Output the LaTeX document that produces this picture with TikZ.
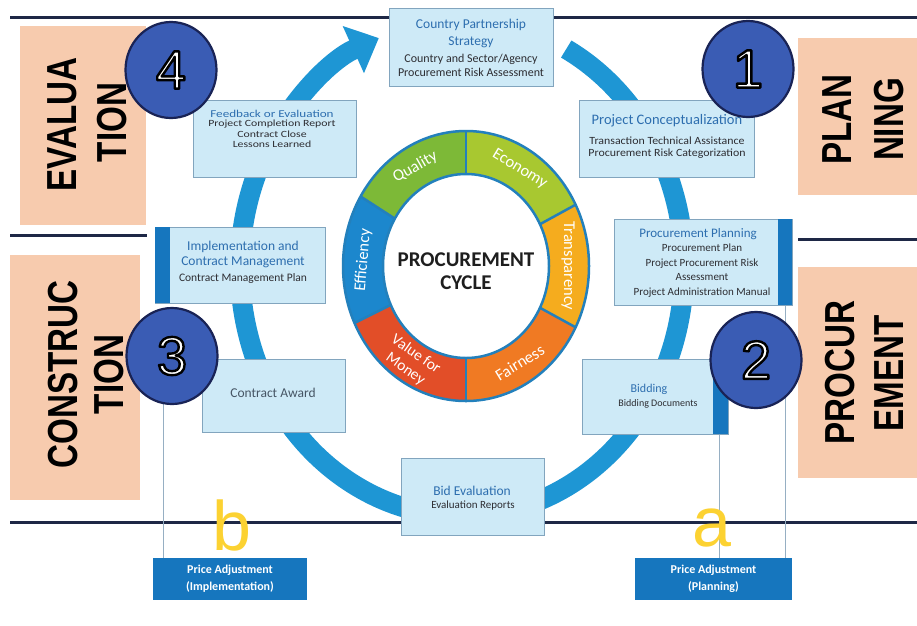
\documentclass[tikz,border=0pt]{standalone}
\usepackage{fontspec}
\setmainfont{Carlito}
\newfontfamily\headfont{Liberation Sans}
\usetikzlibrary{arrows.meta,shapes.geometric}
\definecolor{boxfill}{RGB}{206,234,247}
\definecolor{boxline}{RGB}{130,165,190}
\definecolor{barblue}{RGB}{22,118,190}
\definecolor{ringblue}{RGB}{30,150,212}
\definecolor{peach}{RGB}{247,203,174}
\definecolor{navy}{RGB}{30,40,70}
\definecolor{numblue}{RGB}{58,92,180}
\definecolor{numedge}{RGB}{25,35,85}
\definecolor{titleblue}{RGB}{45,110,175}
\definecolor{bodytext}{RGB}{45,45,50}
\definecolor{slate}{RGB}{70,85,100}
\definecolor{vline}{RGB}{150,175,195}
\definecolor{cquality}{RGB}{125,185,55}
\definecolor{ceconomy}{RGB}{168,200,48}
\definecolor{ctransp}{RGB}{245,172,30}
\definecolor{cfair}{RGB}{240,122,35}
\definecolor{cvalue}{RGB}{226,78,40}
\definecolor{cefficiency}{RGB}{28,135,205}
\definecolor{ringedge}{RGB}{35,128,188}
\definecolor{letteryellow}{RGB}{252,210,50}
\definecolor{centertext}{RGB}{30,30,30}
\newcommand\fsz[2]{\fontsize{#1}{#2}\selectfont}
\newcommand\outlined[1]{\special{pdf:literal direct q 2 Tr 2.4 w 0 0 0 RG 1 j}#1\special{pdf:literal direct Q}}
\newcommand\ringseg[3]{\fill[#1] (#2:123pt and 135pt) arc[start angle=#2,end angle=#3,x radius=123pt,y radius=135pt] -- (#3:83pt and 92pt) arc[start angle=#3,end angle=#2,x radius=83pt,y radius=92pt] -- cycle;}
\begin{document}
\begin{tikzpicture}[x=1pt,y=1pt,
  lbox/.style={draw=boxline,line width=0.8pt,fill=boxfill,inner sep=0pt,outer sep=0pt},
  sidebar/.style={fill=barblue,inner sep=0pt,outer sep=0pt},
  peachbox/.style={fill=peach,inner sep=0pt,outer sep=0pt},
  stagetxt/.style={font=\headfont\bfseries\fsz{42}{42},rotate=90,anchor=base,inner sep=0pt,text=black},
  numc/.style={ellipse,fill=numblue,draw=numedge,line width=2.2pt,minimum width=91pt,minimum height=96pt,inner sep=0pt},
  numtxt/.style={font=\headfont\fsz{54}{54},inner sep=0pt,text=white},
  navyline/.style={navy,line width=3pt},
  thinline/.style={vline,line width=0.9pt},
  ttl/.style={text=titleblue,align=center,inner sep=0pt},
  bdy/.style={text=bodytext,align=center,inner sep=0pt},
  pabox/.style={fill=barblue,text=white,font=\bfseries\fsz{12}{17},align=center,inner sep=0pt,outer sep=0pt},
  seglbl/.style={text=white,font=\fsz{16.5}{18},align=center,inner sep=0pt},
  yellowletter/.style={text=letteryellow,font=\headfont\fsz{70}{70},anchor=base,inner sep=0pt}
]
\fill[white] (0,0) rectangle (917,-625);
\useasboundingbox (0,0) rectangle (917,-625);

% horizontal separator lines
\coordinate (tlA) at (10,-17);
\coordinate (tlB) at (917,-17);
\coordinate (mlA) at (10,-235);
\coordinate (mlB) at (147,-235);
\coordinate (mrA) at (798,-239);
\coordinate (mrB) at (917,-239);
\coordinate (blA) at (10,-522);
\coordinate (blB) at (917,-522);
\draw[navyline] (tlA) -- (tlB);
\draw[navyline] (mlA) -- (mlB);
\draw[navyline] (mrA) -- (mrB);
\draw[navyline] (blA) -- (blB);

% thin vertical lines
\coordinate (vlA1) at (163,-402);
\coordinate (vlA2) at (163,-558);
\coordinate (vlB1) at (785,-305);
\coordinate (vlB2) at (785,-558);
\coordinate (vlC1) at (719,-434);
\coordinate (vlC2) at (719,-558);
\draw[thinline] (vlA1) -- (vlA2);
\draw[thinline] (vlB1) -- (vlB2);
\draw[thinline] (vlC1) -- (vlC2);

% stage boxes
\node[peachbox,minimum width=126pt,minimum height=199pt] (evalbox) at (83,-125.5) {};
\node[peachbox,minimum width=130pt,minimum height=245pt] (consbox) at (75,-377.5) {};
\node[peachbox,minimum width=119pt,minimum height=157pt] (planbox) at (857.5,-116.5) {};
\node[peachbox,minimum width=119pt,minimum height=211pt] (procbox) at (857.5,-372.5) {};
\node[stagetxt] (evalA) at (76,-124.5) {\scalebox{0.79}[1]{EVALUA}};
\node[stagetxt] (evalB) at (126,-122.5) {\scalebox{0.79}[1]{TION}};
\node[stagetxt] (consA) at (77,-374.5) {\scalebox{0.79}[1]{CONSTRUC}};
\node[stagetxt] (consB) at (123,-374.5) {\scalebox{0.79}[1]{TION}};
\node[stagetxt] (planA) at (851,-119.5) {\scalebox{0.79}[1]{PLAN}};
\node[stagetxt] (planB) at (903,-119.5) {\scalebox{0.79}[1]{NING}};
\node[stagetxt] (procA) at (854,-372.5) {\scalebox{0.79}[1]{PROCUR}};
\node[stagetxt] (procB) at (903,-373.5) {\scalebox{0.79}[1]{EMENT}};

% big cycle arrow
\coordinate (ringstart) at ({462+222*cos(62)},{-268+248*sin(62)});
\draw[ringblue,line width=20pt,-{Triangle[width=50pt,length=28pt]}] (ringstart) arc[start angle=62,end angle=-248,x radius=222pt,y radius=248pt];

% inner donut
\begin{scope}[shift={(466,-266)}]
\ringseg{ceconomy}{27}{90}
\ringseg{cquality}{90}{149}
\ringseg{cefficiency}{149}{205}
\ringseg{cvalue}{205}{270}
\ringseg{cfair}{270}{333}
\ringseg{ctransp}{333}{387}
\draw[ringedge,line width=2.5pt] (0,0) ellipse [x radius=123pt,y radius=135pt];
\draw[ringedge,line width=2.5pt] (0,0) ellipse [x radius=83pt,y radius=92pt];
\foreach \a in {27,90,149,205,270,333}
  \draw[ringedge,line width=2.5pt] (\a:83pt and 92pt) -- (\a:123pt and 135pt);
\node[seglbl,rotate=29.5] (lq) at (119.5:103pt and 113.5pt) {Quality};
\node[seglbl,rotate=-31.5] (le) at (58.5:103pt and 113.5pt) {Economy};
\node[seglbl,rotate=-90] (lt) at (0:102pt and 113.5pt) {Transparency};
\node[seglbl,rotate=31.5] (lf) at (301.5:103pt and 113.5pt) {Fairness};
\node[seglbl,rotate=-35,font=\fsz{15.5}{18}] (lv) at (237.5:103pt and 113.5pt) {Value for\\Money};
\node[seglbl,rotate=85] (lef) at (177:103pt and 113.5pt) {Efficiency};
\node[text=centertext,font=\bfseries\fsz{21}{23},align=center,inner sep=0pt] (pc) at (0,-5) {PROCUREMENT\\CYCLE};
\end{scope}

% light blue step boxes
\node[lbox,minimum width=164pt,minimum height=78pt] (cps) at (471,-47) {};
\node[ttl,font=\fsz{13.5}{17}] (cpsT) at (471,-33.5) {Country Partnership\\Strategy};
\node[bdy,font=\fsz{12}{14.5}] (cpsB) at (471,-65.5) {Country and Sector/Agency\\Procurement Risk Assessment};

\node[lbox,minimum width=175pt,minimum height=77pt] (pcon) at (666.5,-138.5) {};
\node[ttl,font=\fsz{14.5}{16}] (pconT) at (667,-121) {Project Conceptualization};
\node[bdy,font=\fsz{11}{12.5}] (pconB) at (667,-148) {\scalebox{1.08}[1]{\begin{tabular}{@{}c@{}}Transaction Technical Assistance\\Procurement Risk Categorization\end{tabular}}};

\node[lbox,minimum width=178pt,minimum height=86pt] (pplan) at (703,-262) {};
\node[sidebar,minimum width=14pt,minimum height=86pt] (pplanbar) at (785,-262) {};
\node[ttl,font=\fsz{13}{15}] (pplanT) at (698,-234.5) {Procurement Planning};
\node[bdy,font=\fsz{11}{14.5}] (pplanB) at (702,-270.5) {Procurement Plan\\Project Procurement Risk\\Assessment\\Project Administration Manual};

\node[lbox,minimum width=146pt,minimum height=75pt] (bid) at (655,-396.5) {};
\node[sidebar,minimum width=15pt,minimum height=75pt] (bidbar) at (720.5,-396.5) {};
\node[ttl,font=\fsz{12}{14}] (bidT) at (649,-389) {Bidding};
\node[bdy,font=\fsz{10}{12}] (bidB) at (658,-404) {Bidding Documents};

\node[lbox,minimum width=143pt,minimum height=77pt] (beval) at (472.5,-496.5) {};
\node[ttl,font=\fsz{13.5}{15}] (bevalT) at (472,-490.5) {Bid Evaluation};
\node[bdy,font=\fsz{11}{13}] (bevalB) at (473,-506) {Evaluation Reports};

\node[lbox,minimum width=143pt,minimum height=73pt] (caward) at (273.5,-395.5) {};
\node[text=slate,font=\fsz{13.5}{15},inner sep=0pt] (cawardT) at (273,-393) {Contract Award};

\node[lbox,minimum width=170pt,minimum height=76pt] (impl) at (240,-265) {};
\node[sidebar,minimum width=15pt,minimum height=76pt] (implbar) at (162.5,-265) {};
\node[ttl,font=\fsz{13.5}{14.5}] (implT) at (243,-254.5) {Implementation and\\Contract Management};
\node[bdy,font=\fsz{11.5}{13}] (implB) at (243,-278) {Contract Management Plan};

\node[lbox,minimum width=163pt,minimum height=77pt] (feed) at (274.5,-138.5) {};
\node[ttl,font=\fsz{10.5}{12}] (feedT) at (272,-114) {\scalebox{1.25}[1]{Feedback or Evaluation}};
\node[bdy,font=\fsz{9.5}{10.2}] (feedB) at (272,-135) {\scalebox{1.24}[1]{\begin{tabular}{@{}c@{}}Project Completion Report\\Contract Close\\Lessons Learned\end{tabular}}};

% price adjustment boxes
\node[pabox,minimum width=154pt,minimum height=42pt] (paImpl) at (230,-579) {Price Adjustment\\(Implementation)};
\node[pabox,minimum width=157pt,minimum height=42pt] (paPlan) at (713.5,-579) {Price Adjustment\\(Planning)};

% numbered circles
\node[numc] (c4) at (171,-70) {};
\node[numc] (c1) at (748,-69) {};
\node[numc] (c3) at (172,-356) {};
\node[numc] (c2) at (756,-360) {};
\node[numtxt] (c4n) at (c4) {\outlined{4}};
\node[numtxt] (c1n) at (c1) {\outlined{1}};
\node[numtxt] (c3n) at (c3) {\outlined{3}};
\node[numtxt] (c2n) at (c2) {\outlined{2}};

% yellow letters
\node[yellowletter] (lb) at (232,-550) {b};
\node[yellowletter] (la) at (712,-546) {a};
\end{tikzpicture}
\end{document}
